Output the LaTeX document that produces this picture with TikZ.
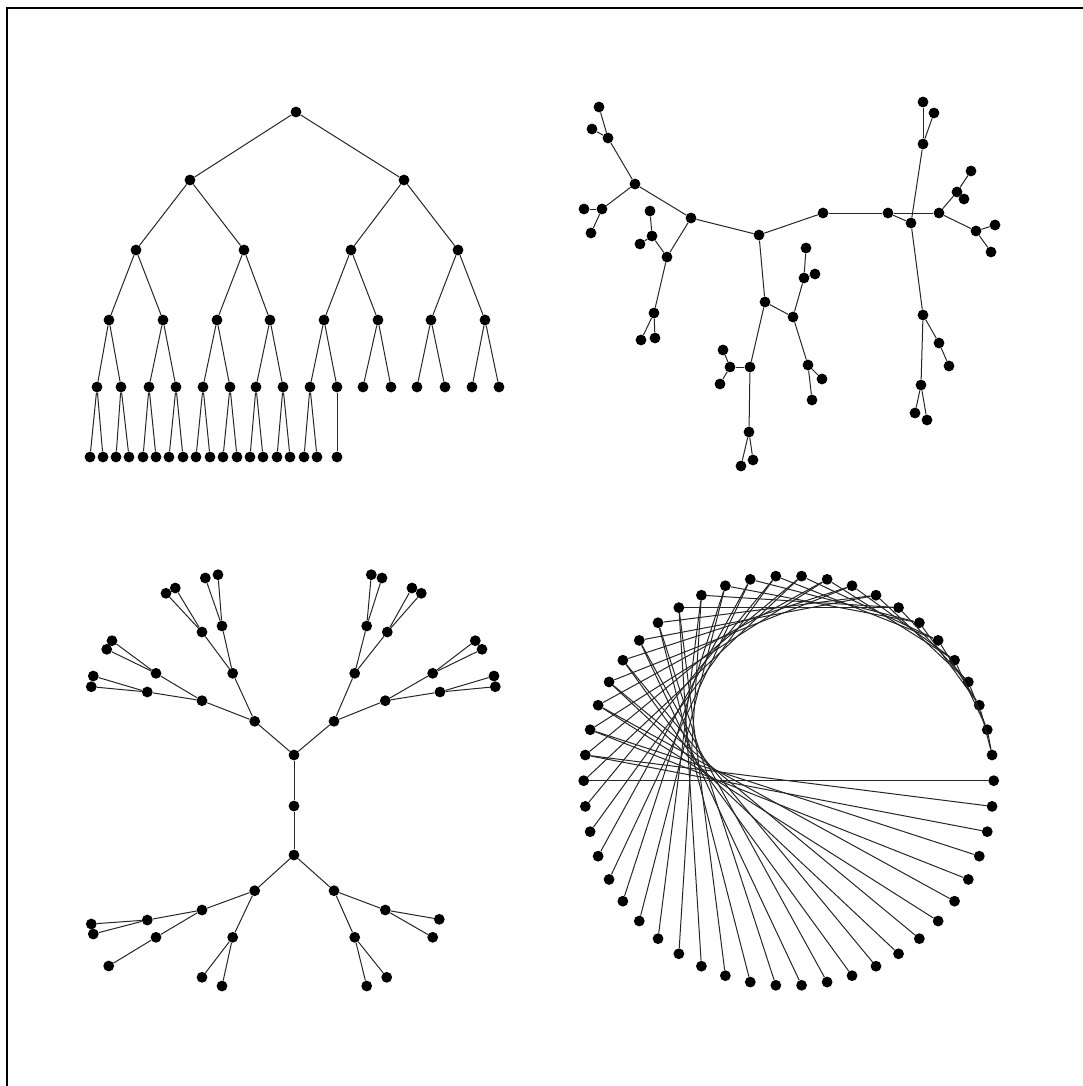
\documentclass[tikz,border=0pt]{standalone}
\begin{document}
\begin{tikzpicture}[x=1pt,y=-1pt,
  dot/.style={circle,fill=black,inner sep=0pt,minimum size=10.8pt},
  edge/.style={line width=1pt,black!85},
  frame/.style={line width=1.8pt,black}]
\useasboundingbox (0,0) rectangle (1083,1086);
% frame (top and left edges)
\coordinate (fa) at (1083,8);
\coordinate (fb) at (7,8);
\coordinate (fc) at (7,1086);
\draw[frame] (fa) -- (fb) -- (fc);

% ---------- Quadrant 1: layered binary tree (heap order) ----------
\foreach \i/\x/\y in {1/296/112,
  2/190/180, 3/404/180,
  4/136/250, 5/244/250, 6/351/250, 7/458/250,
  8/109/320, 9/163/320, 10/217/320, 11/270/320, 12/324/320, 13/378/320, 14/431/320, 15/485/320,
  16/97/387, 17/121/387, 18/149/387, 19/176/387, 20/203/387, 21/230/387, 22/256/387, 23/283/387,
  24/310/387, 25/337/387, 26/363/387, 27/391/387, 28/417/387, 29/445/387, 30/472/387, 31/499/387,
  32/90/457, 33/103/457, 34/116/457, 35/129/457, 36/143/457, 37/156/457, 38/169/457, 39/183/457,
  40/196/457, 41/210/457, 42/223/457, 43/237/457, 44/250/457, 45/263/457, 46/277/457, 47/290/457,
  48/304/457, 49/317/457, 50/337/457}
  \node[dot] (t\i) at (\x,\y) {};
\foreach \p in {2,...,50}{
  \pgfmathtruncatemacro{\q}{\p/2}
  \draw[edge] (t\p) -- (t\q);
}

% ---------- Quadrant 2: free tree layout ----------
\foreach \n/\x/\y in {A/599/107, B/592/129, C/608/138, D/635/184, E/584/209, F/602/209, G/591/233,
  H/691/218, I/650/211, J/652/236, K/640/244, L/667/257, M/654/313, N/641/340, O/655/338,
  P/759/235, Q/823/213, R/888/213, S/911/223, T/939/213, U/923/102, V/934/113, W/923/144,
  X/971/171, Y/957/192, Z/964/199, AA/976/231, AB/995/225, AC/991/252,
  AD/923/315, AE/939/343, AF/949/366, AG/921/385, AH/915/413, AI/927/420,
  AJ/765/302, AK/793/317, AL/806/248, AM/804/278, AN/815/274, AO/808/365, AP/822/379, AQ/812/400,
  AR/750/367, AS/730/367, AT/723/350, AU/720/384, AV/749/432, AW/741/466, AX/753/460}
  \node[dot] (q\n) at (\x,\y) {};
\foreach \a/\b in {A/C, B/C, C/D, D/F, F/E, F/G, D/H, H/L, L/J, J/I, J/K, L/M, M/N, M/O,
  H/P, P/Q, Q/R, R/T, R/S, S/W, W/U, W/V, T/Y, Y/X, Y/Z, T/AA, AA/AB, AA/AC,
  S/AD, AD/AE, AE/AF, AD/AG, AG/AH, AG/AI,
  P/AJ, AJ/AK, AK/AM, AM/AL, AM/AN, AK/AO, AO/AP, AO/AQ, AJ/AR, AR/AS, AS/AT, AS/AU,
  AR/AV, AV/AW, AV/AX}
  \draw[edge] (q\a) -- (q\b);

% ---------- Quadrant 3: symmetric radial tree ----------
\foreach \n/\x/\y in {m1/294/755, m2/294/806, m3/294/855,
  a1/254.7/721.3, a2/232.7/673.3, a3/202/700.7, a4/222/626, a5/202/632,
  a6/205.3/578, a7/218/574.7, a8/166/593.3, a9/175.3/588, a10/156/673.3, a11/147.3/692,
  a12/112/640.7, a13/106.7/649.3, a14/93.3/676, a15/91.3/686.7,
  b1/334/721.3, b2/354.7/673.3, b3/385.3/700.7, b4/366.7/626, b5/387.3/632,
  b6/371.3/574.7, b7/382/578, b8/412/588, b9/421.3/593.3, b10/432.7/673.3, b11/440/692,
  b12/475.3/640.7, b13/482/649.3, b14/494/676, b15/495.3/686.7,
  c1/254.7/890.7, c2/202/910, c3/232.7/937.3, c4/147.3/920, c5/156/937.3,
  c6/91.3/924, c7/93.3/934, c8/108.7/966, c9/202/977.3, c10/222/986,
  d1/334/890.7, d2/385.3/910, d3/354.7/937.3, d4/439.3/919.3, d5/432.7/937.3,
  d6/386.7/977.3, d7/366.7/986}
  \node[dot] (s\n) at (\x,\y) {};
\foreach \a/\b in {m1/m2, m2/m3, m1/a1, m1/b1, m3/c1, m3/d1,
  a1/a2, a1/a3, a2/a4, a2/a5, a4/a6, a4/a7, a5/a8, a5/a9, a3/a10, a3/a11,
  a10/a12, a10/a13, a11/a14, a11/a15,
  b1/b2, b1/b3, b2/b4, b2/b5, b4/b6, b4/b7, b5/b8, b5/b9, b3/b10, b3/b11,
  b10/b12, b10/b13, b11/b14, b11/b15,
  c1/c2, c1/c3, c2/c4, c2/c5, c4/c6, c4/c7, c5/c8, c3/c9, c3/c10,
  d1/d2, d1/d3, d2/d4, d2/d5, d3/d6, d3/d7}
  \draw[edge] (s\a) -- (s\b);

% ---------- Quadrant 4: circular layout ----------
\foreach \p in {1,...,50}
  \node[dot] (c\p) at ({788.7+205*cos(7.2*\p)},{780.7-205*sin(7.2*\p)}) {};
\foreach \p in {2,...,50}{
  \pgfmathtruncatemacro{\q}{\p/2}
  \draw[edge] (c\p) -- (c\q);
}
\end{tikzpicture}
\end{document}
